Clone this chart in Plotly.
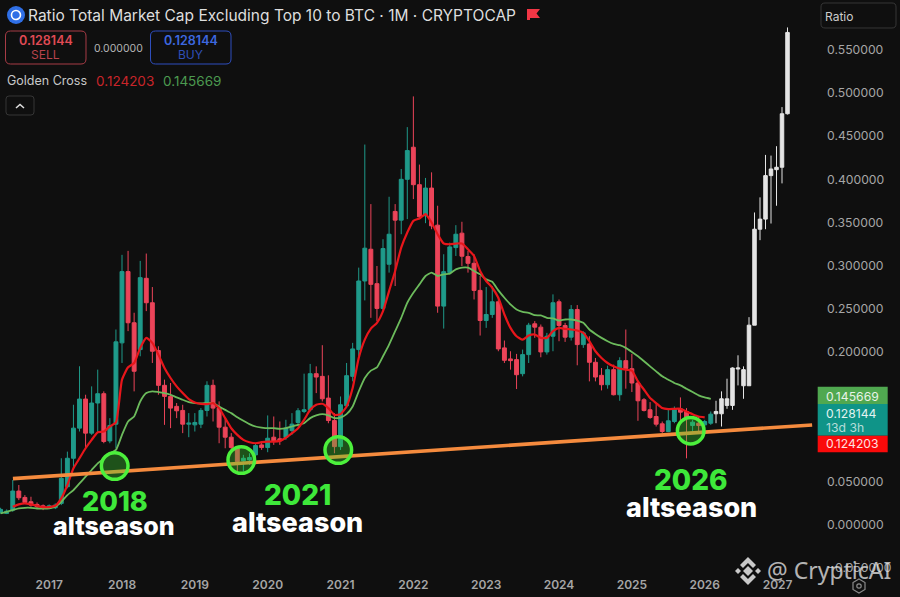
"""Ratio of total market cap excluding top 10 to BTC, monthly candles with projection."""

import plotly.graph_objects as go

# months counted from Jan 2018
months = list(range(-20, 98))
opens = [
    .0136, .0129, .0167, .0388, .0314, .0264, .0233, .0217, .0186, .0194, .0245, .0438, .0768, .1117, .1454, .1059, .1408, .1516, .0969, .1163,
    .2105, .2931, .2338, .2027, .2853, .2570, .2016, .1613, .1485, .1369,
    .1322, .1163, .1155, .1163, .1322, .1613, .1349, .1128, .1012, .0884,
    .0737, .0749, .0807, .0923, .0892, .1012, .0993, .1008, .1089, .1183,
    .1310, .1330, .1748, .1717, .1465, .1205, .0903, .1376, .1717, .2027,
    .2822, .3190, .2791, .2504, .3016, .3628, .3527, .4000, .4372, .3938,
    .3578, .3899, .3469, .2531, .2919, .3209, .3376, .3105, .3027, .2713,
    .2364, .2434, .2581, .2047, .1919, .1911, .1748, .1969, .2326, .2287,
    .2000, .2182, .2581, .2306, .2171, .2492, .2085, .2093, .1880, .1729,
    .1620, .1795, .1504, .1899, .1806, .1640, .1446, .1330, .1252, .1167,
    .1078, .1194, .1341, .1310, .1147, .1174, .1155, .1174,
]
highs = [
    .0194, .0175, .0516, .0458, .0341, .0322, .0256, .0233, .0233, .0245, .0768, .0845, .1388, .1834, .1504, .1601, .1795, .1543, .1233, .2260,
    .3125, .3171, .2454, .3055, .3140, .2752, .2066, .1679, .1640, .1408,
    .1388, .1291, .1291, .1349, .1660, .1679, .1427, .1233, .1059, .0903,
    .0807, .0826, .0942, .0962, .1264, .1252, .1194, .1214, .1291, .1349,
    .1748, .1861, .1833, .2078, .1729, .1291, .1484, .1872, .2105, .2977,
    .4403, .3713, .2996, .3306, .3798, .3713, .4120, .4605, .4961, .4171,
    .4016, .4081, .3694, .3132, .3267, .3469, .3508, .3170, .3132, .2880,
    .2752, .2763, .2628, .2132, .2008, .1977, .2027, .2337, .2357, .2318,
    .2221, .2667, .2608, .2337, .2543, .2543, .2240, .2182, .1930, .1814,
    .1841, .1853, .1938, .2260, .1977, .1667, .1465, .1419, .1407, .1194,
    .1330, .1368, .1473, .1349, .1213, .1252, .1213, .1310,
]
lows = [
    .0129, .0121, .0148, .0283, .0245, .0206, .0186, .0167, .0179, .0179, .0225, .0419, .0652, .1078, .0884, .1039, .1078, .0942, .0942, .0884,
    .1872, .2241, .1543, .1950, .2473, .1872, .1504, .1155, .1117, .1233,
    .1059, .1012, .1078, .1117, .1252, .1194, .0942, .0884, .0845, .0613,
    .0613, .0690, .0787, .0865, .0838, .0923, .0923, .0981, .1039, .1136,
    .1291, .1310, .1523, .1426, .1174, .0826, .0864, .1349, .1659, .1950,
    .2597, .2395, .2357, .2473, .2919, .2764, .3364, .3539, .3771, .3539,
    .3492, .3422, .2454, .2271, .2899, .3112, .2996, .2919, .2608, .2190,
    .2279, .2395, .2008, .1872, .1795, .1570, .1717, .1872, .2163, .1938,
    .1969, .2008, .2124, .2116, .2132, .1845, .2047, .1659, .1659, .1554,
    .1574, .1496, .1434, .1574, .1535, .1202, .1310, .1225, .1136, .1058,
    .1070, .1174, .1194, .0767, .1078, .1078, .1116, .1155,
]
closes = [
    .0175, .0155, .0388, .0310, .0256, .0225, .0206, .0186, .0217, .0225, .0535, .0768, .1117, .1454, .1059, .1408, .1516, .0962, .1148, .2117,
    .2931, .2338, .1776, .2861, .2570, .2008, .1613, .1485, .1349, .1318,
    .1163, .1175, .1183, .1322, .1613, .1349, .1128, .1012, .0892, .0729,
    .0768, .0776, .0915, .0892, .1000, .0969, .0969, .1117, .1163, .1318,
    .1330, .1748, .1709, .1457, .1205, .0903, .1388, .1725, .2035, .2822,
    .3202, .2783, .2504, .3198, .3364, .3527, .4000, .4333, .3938, .3566,
    .3899, .3461, .2531, .2930, .3217, .3364, .3109, .3027, .2713, .2364,
    .2434, .2581, .2035, .1903, .1899, .1736, .1969, .2310, .2287, .2000,
    .2182, .2570, .2306, .2171, .2492, .2085, .2221, .1880, .1709, .1620,
    .1795, .1504, .1899, .1806, .1640, .1434, .1322, .1240, .1163, .1078,
    .1202, .1341, .1302, .1240, .1186, .1147, .1194, .1279,
]

# pasted projection, sits on its own slightly tighter time axis
proj_steps = list(range(14))
proj_opens = [.1283, .1283, .1380, .1380, .1802, .1608, .1608, .2310, .3422, .3539, .4043, .4112, .4140, .4760]
proj_highs = [.1434, .1543, .1690, .1822, .1961, .1833, .2403, .3616, .3791, .4283, .4275, .4384, .4837, .5760]
proj_lows = [.1174, .1136, .1341, .1329, .1612, .1457, .1608, .2310, .3295, .3422, .3488, .3694, .3953, .4751]
proj_closes = [.1310, .1457, .1457, .1814, .1814, .1795, .2310, .3422, .3539, .4043, .4120, .4140, .4760, .5702]

# Golden Cross, fast line starts at month -18 and stops at month 96
fast_ma = [
    .0206, .0233, .0245, .0233, .0217, .0202, .0202, .0217, .0303, .0458, .0652, .0768, .0884, .0981, .1070, .1078, .1136, .1183,
    .1679, .1822, .1872, .2047, .2163, .2105, .1969, .1814, .1698, .1601,
    .1523, .1454, .1415, .1399, .1395, .1407, .1349, .1233, .1116, .1039,
    .0981, .0954, .0942, .0954, .0961, .0961, .0969, .1005, .1058, .1116,
    .1213, .1329, .1388, .1399, .1349, .1271, .1279, .1368, .1581, .1930,
    .2143, .2271, .2337, .2473, .2705, .2938, .3209, .3384, .3519, .3546,
    .3597, .3500, .3364, .3256, .3248, .3256, .3256, .3190, .3112, .2938,
    .2822, .2744, .2628, .2434, .2279, .2182, .2143, .2190, .2202, .2163,
    .2163, .2240, .2279, .2267, .2260, .2248, .2221, .2124, .2008, .1930,
    .1872, .1833, .1806, .1795, .1783, .1659, .1562, .1465, .1407, .1349,
    .1337, .1341, .1341, .1310, .1279, .1252, .1242,
]
slow_ma = [
    .0129, .0148, .0167, .0186, .0194, .0194, .0186, .0186, .0186, .0206, .0264, .0341, .0399, .0477, .0554, .0632, .0709, .0767, .0826, .0864,
    .1039, .1194, .1252, .1426, .1523, .1543, .1535, .1523, .1504, .1473,
    .1446, .1419, .1407, .1403, .1407, .1407, .1368, .1329, .1291, .1244,
    .1202, .1163, .1136, .1124, .1116, .1116, .1109, .1116, .1136, .1155,
    .1174, .1233, .1264, .1279, .1264, .1233, .1240, .1279, .1368, .1543,
    .1698, .1783, .1822, .1950, .2085, .2240, .2395, .2570, .2686, .2783,
    .2880, .2919, .2880, .2899, .2907, .2957, .2977, .2977, .2938, .2899,
    .2841, .2814, .2713, .2628, .2550, .2492, .2465, .2453, .2426, .2423,
    .2395, .2388, .2364, .2376, .2376, .2364, .2337, .2260, .2209, .2163,
    .2124, .2093, .2078, .2047, .2000, .1950, .1892, .1833, .1775, .1717,
    .1678, .1640, .1612, .1574, .1535, .1496, .1473, .1457,
]

trend_months = [-17.97, 113.7]
trend_values = [.0532, .1154]

price_ticks = [.55, .5, .45, .4, .35, .3, .25, .2, .05, 0, -.05]
year_ticks = [-12, 0, 12, 24, 36, 48, 60, 72, 84, 96, 108]
year_labels = ['2017', '2018', '2019', '2020', '2021', '2022', '2023', '2024', '2025', '2026', '2027']

W, H = 900, 597
PLOT_W, PLOT_H = 815, 572
BG = '#0f0f0f'
UI_FONT = 'Inter'


def px(x, y):
    # picture pixels to paper coordinates
    return x / PLOT_W, (PLOT_H - y) / PLOT_H


def poly(points, close=True):
    parts = []
    for n, (x, y) in enumerate(points):
        a, b = px(x, y)
        parts.append(f"{'M' if n == 0 else 'L'}{a:.5f},{b:.5f}")
    return ' '.join(parts) + (' Z' if close else '')


def round_rect(x0, y0, x1, y1, r):
    pts = [(x0 + r, y0), (x1 - r, y0), (x1, y0), (x1, y0 + r), (x1, y1 - r), (x1, y1),
           (x1 - r, y1), (x0 + r, y1), (x0, y1), (x0, y1 - r), (x0, y0 + r), (x0, y0), (x0 + r, y0)]
    p = [px(*q) for q in pts]
    s = f"M{p[0][0]:.5f},{p[0][1]:.5f} L{p[1][0]:.5f},{p[1][1]:.5f}"
    for n in (2, 5, 8, 11):
        s += f" Q{p[n][0]:.5f},{p[n][1]:.5f} {p[n + 1][0]:.5f},{p[n + 1][1]:.5f}"
        if n < 11:
            s += f" L{p[n + 2][0]:.5f},{p[n + 2][1]:.5f}"
    return s + ' Z'


def path_shape(path, fill='rgba(0,0,0,0)', line=None, width=1):
    return dict(type='path', xref='paper', yref='paper', path=path, fillcolor=fill, layer='above',
                line=dict(color=line or 'rgba(0,0,0,0)', width=width if line else 0))


def circle(cx, cy, r, fill='rgba(0,0,0,0)', line=None, width=1):
    x0, y0 = px(cx - r, cy + r)
    x1, y1 = px(cx + r, cy - r)
    return dict(type='circle', xref='paper', yref='paper', x0=x0, y0=y0, x1=x1, y1=y1, fillcolor=fill,
                layer='above', line=dict(color=line or 'rgba(0,0,0,0)', width=width if line else 0))


def label(x, y, text, size, color, anchor='left', weight=400, family=UI_FONT):
    a, b = px(x, y)
    return dict(x=a, y=b, xref='paper', yref='paper', text=text, showarrow=False, xanchor=anchor, yanchor='middle',
                font=dict(size=size, color=color, family=family, weight=weight), borderpad=0, borderwidth=0)


fig = go.Figure()
fig.add_trace(go.Candlestick(
    x=months, open=opens, high=highs, low=lows, close=closes, whiskerwidth=0,
    increasing=dict(line=dict(color='#1f9a8a', width=1), fillcolor='#1f9a8a'),
    decreasing=dict(line=dict(color='#ec4459', width=1), fillcolor='#ec4459'),
))
fig.add_trace(go.Candlestick(
    x=proj_steps, open=proj_opens, high=proj_highs, low=proj_lows, close=proj_closes, whiskerwidth=0, xaxis='x2',
    increasing=dict(line=dict(color='#e4e4e4', width=1), fillcolor='#e4e4e4'),
    decreasing=dict(line=dict(color='#e4e4e4', width=1), fillcolor='#e4e4e4'),
))
fig.add_trace(go.Scatter(x=months[:len(slow_ma)], y=slow_ma, mode='lines',
                         line=dict(color='#6cbb5c', width=1.8, shape='spline', smoothing=0.5)))
fig.add_trace(go.Scatter(x=months[2:2 + len(fast_ma)], y=fast_ma, mode='lines',
                         line=dict(color='#e8161b', width=2.2, shape='spline', smoothing=0.5)))
fig.add_trace(go.Scatter(x=trend_months, y=trend_values, mode='lines', line=dict(color='#f58b3e', width=3.6)))

shapes = [
    # header
    circle(16, 15, 9, fill='#2f6fe6'),
    circle(16, 15, 4.5, line='#ffffff', width=1.6),
    path_shape(poly([(527, 9), (540, 9), (536.5, 13.5), (540, 18), (530, 18), (530, 20), (527, 20)]), fill='#f23645'),
    path_shape(round_rect(5.5, 31, 86, 64, 5), line='#a83c46', width=1),
    path_shape(round_rect(150.5, 31, 231, 64, 5), line='#2f4fc0', width=1),
    path_shape(round_rect(6, 96, 34, 115, 3), line='#363636', width=1),
    path_shape(poly([(16, 108), (20, 104.5), (24, 108)], close=False), line='#e0e0e0', width=1.5),
    path_shape(round_rect(821, 3, 896, 28, 4), line='#363636', width=1),
    # price tags
    path_shape(poly([(817.7, 386.7), (887.7, 386.7), (887.7, 404), (817.7, 404)]), fill='#50a850'),
    path_shape(poly([(817.7, 404), (887.7, 404), (887.7, 435.7), (817.7, 435.7)]), fill='#0f9488'),
    path_shape(poly([(817.7, 435.7), (887.7, 435.7), (887.7, 452.3), (817.7, 452.3)]), fill='#fa0a0a'),
    # settings hexagon
    path_shape(poly([(859, 579), (865, 582.5), (865, 589.5), (859, 593), (853, 589.5), (853, 582.5)]), line='#8a8a8a', width=1.2),
    circle(859, 586, 2.2, line='#8a8a8a', width=1.2),
    # watermark logo
    path_shape(poly([(748, 566), (753, 571), (748, 576), (743, 571)]), fill='#c9c9c9'),
    path_shape(poly([(738, 568), (741, 571), (738, 574), (735, 571)]), fill='#c9c9c9'),
    path_shape(poly([(758, 568), (761, 571), (758, 574), (755, 571)]), fill='#c9c9c9'),
    path_shape(poly([(748, 557), (756, 565), (753, 568), (748, 563), (743, 568), (740, 565)]), fill='#c9c9c9'),
    path_shape(poly([(748, 585), (756, 577), (753, 574), (748, 579), (743, 574), (740, 577)]), fill='#c9c9c9'),
]
# altseason circles
for cx, cy in [(114.7, 466), (241.3, 460), (338.3, 450), (690.7, 430.7)]:
    shapes.append(circle(cx, cy, 13.3, fill='rgba(60,210,50,0.35)', line='#4cf03c', width=3.5))

texts = [
    label(28, 15, 'Ratio Total Market Cap Excluding Top 10 to BTC · 1M · CRYPTOCAP', 15.5, '#dedede'),
    label(45.5, 41, '0.128144', 12.5, '#e04a55', 'center', 600),
    label(45.5, 55, 'SELL', 12, '#b8434d', 'center'),
    label(118, 48, '0.000000', 10.5, '#b5b5b5', 'center'),
    label(190.5, 41, '0.128144', 12.5, '#3d68e0', 'center', 600),
    label(190.5, 55, 'BUY', 12, '#2f50b8', 'center'),
    label(7, 81, 'Golden Cross', 12.5, '#c8c8c8'),
    label(96, 81, '0.124203', 13.5, '#c9252a'),
    label(163, 81, '0.145669', 13.5, '#4c9a50'),
    label(825, 16, 'Ratio', 12, '#cccccc'),
    label(826, 396, '0.145669', 12.2, '#e8f3e8'),
    label(826, 413, '0.128144', 12.2, '#e2f3f1'),
    label(826, 427, '13d 3h', 12.2, '#b5dcd8'),
    label(826, 443, '0.124203', 12.2, '#ffe0e0'),
    label(114.5, 501, '2018', 27, '#3ee83a', 'center', 800),
    label(114, 526, 'altseason', 25, '#ffffff', 'center', 800),
    label(297, 495, '2021', 28, '#3ee83a', 'center', 800),
    label(297, 522, 'altseason', 27, '#ffffff', 'center', 800),
    label(690.5, 480, '2026', 28, '#3ee83a', 'center', 800),
    label(691, 507, 'altseason', 27, '#ffffff', 'center', 800),
    label(767, 570, '@ CrypticAI', 23, 'rgba(225,225,225,0.8)', family='Noto Sans'),
]

fig.update_layout(
    width=W, height=H, margin=dict(l=0, r=W - PLOT_W, t=0, b=H - PLOT_H),
    paper_bgcolor=BG, plot_bgcolor=BG, showlegend=False, shapes=shapes, annotations=texts,
    font=dict(family=UI_FONT, color='#a6a6a6'), boxgap=0.2, boxgroupgap=0.2,
    xaxis=dict(range=[-20.1, 114.17], tickmode='array', tickvals=year_ticks, ticktext=year_labels, showgrid=False,
               zeroline=False, showline=False, ticks='', rangeslider=dict(visible=False),
               tickfont=dict(size=12, color='#a6a6a6', weight=600), ticklabelstandoff=4),
    # one projection step is 5.5 px, first one at x = 716
    xaxis2=dict(range=[-716 / 5.5, (PLOT_W - 716) / 5.5], overlaying='x', anchor='y', visible=False,
                rangeslider=dict(visible=False)),
    yaxis=dict(range=[-.055, .6078], side='right', tickmode='array', tickvals=price_ticks, tickformat='.6f',
               showgrid=False, zeroline=False, showline=False, ticks='', ticklabelstandoff=11,
               tickfont=dict(size=12.2, color='#a6a6a6')),
)

fig.write_html("out.html", config={'displayModeBar': False},
               post_script="document.body.style.margin='0';document.body.style.background='#0f0f0f';document.body.style.overflow='hidden';")
